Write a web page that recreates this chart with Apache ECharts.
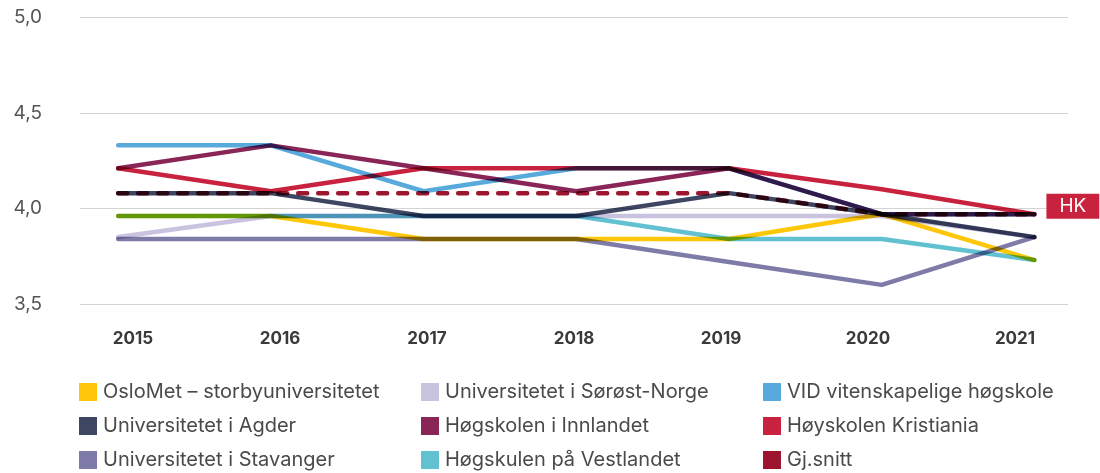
<!DOCTYPE html>
<html>
<head>
<meta charset="utf-8">
<script src="https://cdn.jsdelivr.net/npm/echarts@6/dist/echarts.min.js"></script>
<style>
html,body{margin:0;padding:0;background:#fff;}
#c{width:1100px;height:473px;}
</style>
</head>
<body>
<div id="c"></div>
<script>
const years = [2015, 2016, 2017, 2018, 2019, 2020, 2021];
const yTicks = [3.5, 4.0, 4.5, 5.0];

const oslomet    = [3.96, 3.96, 3.84, 3.84, 3.84, 3.97, 3.73];
const sorost     = [3.85, 3.96, 3.96, 3.96, 3.96, 3.96, 3.85];
const vid        = [4.33, 4.33, 4.09, 4.21, 4.21, 3.97, 3.97];
const agder      = [4.08, 4.08, 3.96, 3.96, 4.08, 3.97, 3.85];
const innlandet  = [4.21, 4.33, 4.21, 4.09, 4.21, 3.97, 3.97];
const kristiania = [4.21, 4.09, 4.21, 4.21, 4.21, 4.10, 3.97];
const stavanger  = [3.84, 3.84, 3.84, 3.84, 3.72, 3.60, 3.85];
const vestlandet = [3.96, 3.96, 3.96, 3.96, 3.84, 3.84, 3.73];
const snitt      = [4.08, 4.08, 4.08, 4.08, 4.08, 3.97, 3.97];

const seriesDefs = [
  {name: 'OsloMet – storbyuniversitetet', values: oslomet, color: '#ffc709'},
  {name: 'Universitetet i Sørøst-Norge', values: sorost, color: '#c9c3df'},
  {name: 'VID vitenskapelige høgskole', values: vid, color: '#58a9dc'},
  {name: 'Universitetet i Agder', values: agder, color: '#3e4661'},
  {name: 'Høgskolen i Innlandet', values: innlandet, color: '#8a2557'},
  {name: 'Høyskolen Kristiania', values: kristiania, color: '#c9223f'},
  {name: 'Universitetet i Stavanger', values: stavanger, color: '#7e7ba8'},
  {name: 'Høgskulen på Vestlandet', values: vestlandet, color: '#62c1d1'},
  {name: 'Gj.snitt', values: snitt, color: '#9b162e', dashed: true}
];

const FONT = 'Inter, Roboto, sans-serif';
const pairs = v => years.map((y, i) => [y, v[i]]);

const series = seriesDefs.map(d => ({
  name: d.name,
  type: 'line',
  xAxisIndex: 0, yAxisIndex: 0,
  data: pairs(d.values),
  showSymbol: false,
  symbol: 'none',
  blendMode: 'multiply',
  color: d.color,
  lineStyle: {
    width: 4.5, color: d.color, cap: 'round', join: 'round',
    type: d.dashed ? [9, 11] : 'solid'
  },
  emphasis: {disabled: true},
  silent: true
}));

series.push({
  name: 'HK-label',
  type: 'scatter',
  xAxisIndex: 0, yAxisIndex: 0,
  data: [[years[years.length - 1], kristiania[kristiania.length - 1]]],
  symbolSize: 0,
  silent: true,
  itemStyle: {opacity: 1},
  emphasis: {disabled: true},
  label: {
    show: true,
    formatter: 'HK',
    position: 'right',
    distance: 12,
    offset: [0, -8],
    backgroundColor: '#c9223f',
    color: '#ffffff',
    opacity: 1,
    fontFamily: FONT,
    fontSize: 19,
    lineHeight: 19,
    padding: [3, 13, 3, 13]
  },
  z: 10
});

const legendCommon = {
  orient: 'vertical', top: 382, itemWidth: 18, itemHeight: 18, itemGap: 14,
  icon: 'rect', padding: 0, selectedMode: false,
  textStyle: {fontFamily: FONT, fontSize: 20, color: '#4a4a4a', padding: [0, 0, 0, 1]}
};

const option = {
  animation: false,
  backgroundColor: '#ffffff',
  grid: [
    {left: 80, right: 32, top: 17.3, height: 286.7, containLabel: false},
    {left: 133, right: 85, top: 17.3, height: 286.7, containLabel: false}
  ],
  xAxis: [
    {type: 'value', gridIndex: 0, min: 2014.75, max: 2021.22, show: false},
    {type: 'category', gridIndex: 1, data: years.map(String), boundaryGap: false,
     axisLine: {show: false}, axisTick: {show: false}, splitLine: {show: false},
     axisLabel: {margin: 26, fontFamily: FONT, fontSize: 17, fontWeight: 'bold', color: '#3a3a3a'}}
  ],
  yAxis: [
    {type: 'value', gridIndex: 0, min: yTicks[0], max: yTicks[yTicks.length - 1], interval: 0.5,
     axisLine: {show: false}, axisTick: {show: false},
     splitLine: {lineStyle: {color: '#d4d4d4', width: 1}},
     axisLabel: {margin: 38, fontFamily: FONT, fontSize: 19, color: '#555555',
                 formatter: v => v.toFixed(1).replace('.', ',')}},
    {type: 'value', gridIndex: 1, show: false, min: 0, max: 1}
  ],
  legend: [
    Object.assign({left: 79, data: [seriesDefs[0].name, seriesDefs[3].name, seriesDefs[6].name]}, legendCommon),
    Object.assign({left: 421, data: [seriesDefs[1].name, seriesDefs[4].name, seriesDefs[7].name]}, legendCommon),
    Object.assign({left: 763, data: [seriesDefs[2].name, seriesDefs[5].name, seriesDefs[8].name]}, legendCommon)
  ],
  series: series
};

const chart = echarts.init(document.getElementById('c'), null, {renderer: 'canvas'});
chart.setOption(option);
</script>
</body>
</html>
